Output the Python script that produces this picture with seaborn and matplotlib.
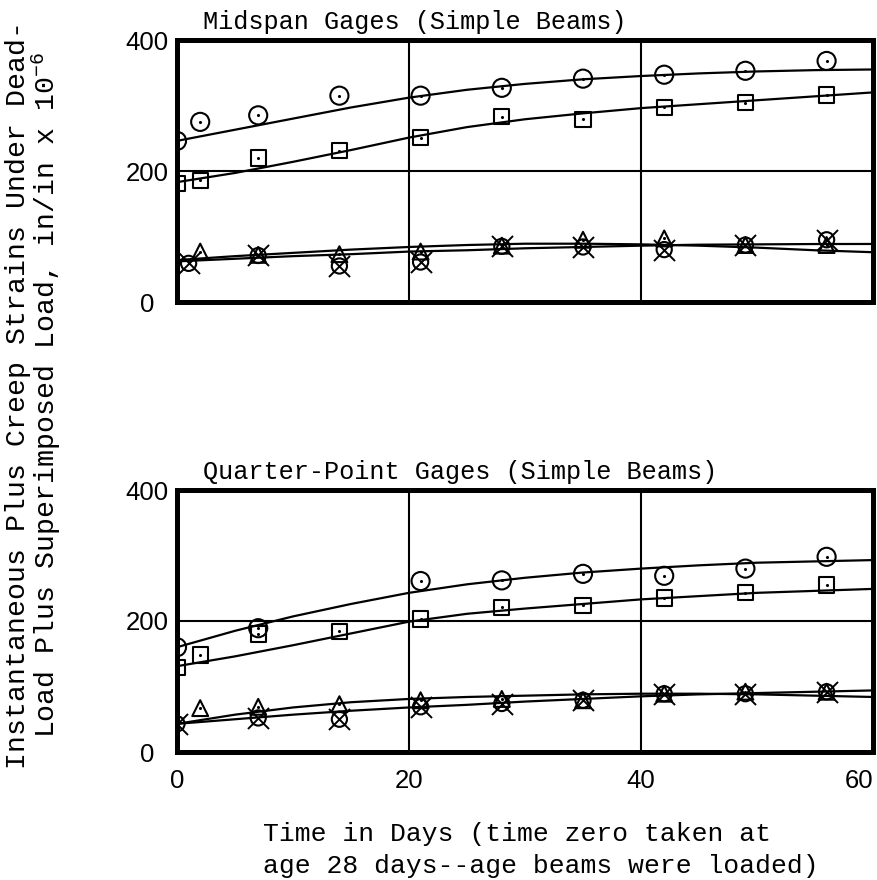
import matplotlib
matplotlib.use("Agg")
import matplotlib.pyplot as plt
import seaborn as sns
import pandas as pd

# ---------------- data ----------------
# Midspan gages (upper panel)
mid_circle_days = [0, 2, 7, 14, 21, 28, 35, 42, 49, 56]
mid_circle_vals = [246, 275, 285, 315, 315, 327, 341, 347, 353, 368]
mid_square_days = [0, 2, 7, 14, 21, 28, 35, 42, 49, 56]
mid_square_vals = [181, 186, 220, 231, 251, 283, 279, 297, 304, 316]
mid_tri_days = [2, 7, 14, 21, 28, 35, 42, 49, 56]
mid_tri_vals = [77, 72, 73, 77, 86, 95, 97, 87, 87]
mid_xc_days = [1, 7, 14, 21, 28, 35, 42, 49, 56]
mid_xc_vals = [59, 71, 55, 61, 85, 84, 80, 87, 95]

# Quarter-point gages (lower panel)
qp_circle_days = [0, 7, 21, 28, 35, 42, 49, 56]
qp_circle_vals = [160, 189, 261, 262, 272, 269, 280, 298]
qp_square_days = [0, 2, 7, 14, 21, 28, 35, 42, 49, 56]
qp_square_vals = [129, 148, 180, 184, 203, 221, 224, 235, 243, 255]
qp_tri_days = [2, 7, 14, 21, 28, 35, 42, 49, 56]
qp_tri_vals = [67, 69, 73, 79, 81, 79, 89, 92, 92]
qp_xc_days = [0, 7, 14, 21, 28, 35, 42, 49, 56]
qp_xc_vals = [43, 52, 50, 69, 74, 79, 89, 89, 92]

# fitted curves, every 5 days
curve_days = [0, 5, 10, 15, 20, 25, 30, 35, 40, 45, 50, 55, 60]
mid_circle_fit = [246, 263, 280, 297, 312, 324, 333, 340, 345, 349, 352, 354, 355]
mid_square_fit = [183, 197, 214, 232, 251, 267, 279, 288, 296, 302, 308, 314, 320]
mid_tri_fit = [64, 70, 75, 80, 84, 87, 89, 89, 88, 86, 83, 79, 76]
mid_xc_fit = [62, 66, 70, 73, 77, 79, 82, 84, 86, 87.5, 88, 88.5, 88.6]
qp_circle_fit = [160, 185, 207, 226, 243, 256, 266, 274, 280, 285, 289, 291, 293]
qp_square_fit = [131, 146, 163, 181, 199, 211, 219, 226, 233, 238, 243, 246, 249]
qp_tri_fit = [43, 57, 68, 76, 81, 84, 86, 88, 89, 89, 88, 86, 84]
qp_xc_fit = [43, 50, 57, 63, 68, 72, 77, 81, 85, 88, 90, 92, 94]

x_ticks = [0, 20, 40, 60]
y_ticks = [0, 200, 400]
titles = ["Midspan Gages (Simple Beams)", "Quarter-Point Gages (Simple Beams)"]
ylabel_lines = ["Instantaneous Plus Creep Strains Under Dead-",
                "Load Plus Superimposed Load, in/in x 10$^{-6}$"]
xlabel_lines = ["Time in Days (time zero taken at",
                "age 28 days--age beams were loaded)"]

# ---------------- style ----------------
sns.set_theme(style="white")
plt.rcParams["font.family"] = ["Liberation Mono", "DejaVu Sans Mono"]
plt.rcParams["mathtext.default"] = "regular"
plt.rcParams["text.color"] = "black"

fig = plt.figure(figsize=(8.77, 8.80), dpi=100)
W, H = 877, 880
ax_top = fig.add_axes([177 / W, 1 - 302 / H, 696 / W, 262 / H])
ax_bot = fig.add_axes([177 / W, 1 - 752 / H, 696 / W, 262 / H])


def hollow(ax, x, y, marker, s, lw=1.5):
    sns.scatterplot(x=x, y=y, ax=ax, marker=marker, s=s, facecolor="none",
                    edgecolor="black", linewidth=lw, zorder=4, legend=False)


def dots(ax, x, y):
    sns.scatterplot(x=x, y=y, ax=ax, marker="o", s=5, color="black",
                    edgecolor="black", linewidth=0, zorder=5, legend=False)


def crosses(ax, x, y):
    sns.scatterplot(x=x, y=y, ax=ax, marker="x", s=230, color="black",
                    linewidth=1.4, zorder=4, legend=False)


def panel(ax, circ, sq, tri, xc, fits, title, show_x):
    for fit in fits:
        sns.lineplot(x=curve_days, y=fit, ax=ax, color="black", lw=1.6,
                     zorder=3, legend=False)
    hollow(ax, circ[0], circ[1], "o", 170)
    dots(ax, circ[0], circ[1])
    hollow(ax, sq[0], sq[1], "s", 120)
    dots(ax, sq[0], sq[1])
    hollow(ax, tri[0], tri[1], "^", 130)
    dots(ax, tri[0], tri[1])
    hollow(ax, xc[0], xc[1], "o", 120)
    crosses(ax, xc[0], xc[1])
    dots(ax, xc[0], xc[1])

    ax.set_xlim(0, 60)
    ax.set_ylim(0, 400)
    ax.set_xticks(x_ticks)
    ax.set_yticks(y_ticks, labels=[str(t) for t in y_ticks])
    ax.grid(True, color="black", lw=1.5)
    ax.set_axisbelow(True)
    for sp in ax.spines.values():
        sp.set_visible(True)
        sp.set_color("black")
        sp.set_linewidth(3.6)
    ax.tick_params(axis="y", length=0, pad=21.5)
    for lab in ax.get_yticklabels():
        lab.set_family(["Liberation Sans"])
        lab.set_fontsize(18.5)
        lab.set_ha("center")
        lab.set_color("black")
    if show_x:
        ax.set_xticks(x_ticks, labels=[str(t) for t in x_ticks])
        ax.tick_params(axis="x", length=0, pad=12)
        labs = ax.get_xticklabels()
        for lab in labs:
            lab.set_family(["Liberation Sans"])
            lab.set_fontsize(18.5)
            lab.set_color("black")
        labs[-1].set_ha("right")
    else:
        ax.tick_params(axis="x", length=0, labelbottom=False)
    ax.set_xlabel("")
    ax.set_ylabel("")
    ax.text(26 / 696, 1 + 11 / 262, title, transform=ax.transAxes,
            ha="left", va="baseline", fontsize=18.2)


panel(ax_top, (mid_circle_days, mid_circle_vals), (mid_square_days, mid_square_vals),
      (mid_tri_days, mid_tri_vals), (mid_xc_days, mid_xc_vals),
      [mid_circle_fit, mid_square_fit, mid_tri_fit, mid_xc_fit], titles[0], False)
panel(ax_bot, (qp_circle_days, qp_circle_vals), (qp_square_days, qp_square_vals),
      (qp_tri_days, qp_tri_vals), (qp_xc_days, qp_xc_vals),
      [qp_circle_fit, qp_square_fit, qp_tri_fit, qp_xc_fit], titles[1], True)

# y label (two rotated, centred lines in one text)
fig.text(34 / W, 1 - 395 / H, "\n".join(ylabel_lines), rotation=90,
         ha="center", va="center", multialignment="center",
         fontsize=20.3, linespacing=0.95)

# x label (two left-aligned lines in one text)
fig.text(263 / W, 1 - 850 / H, "\n".join(xlabel_lines), ha="left",
         va="center", multialignment="left", fontsize=19, linespacing=1.4)

fig.savefig("out.png", dpi=100, facecolor="white")
